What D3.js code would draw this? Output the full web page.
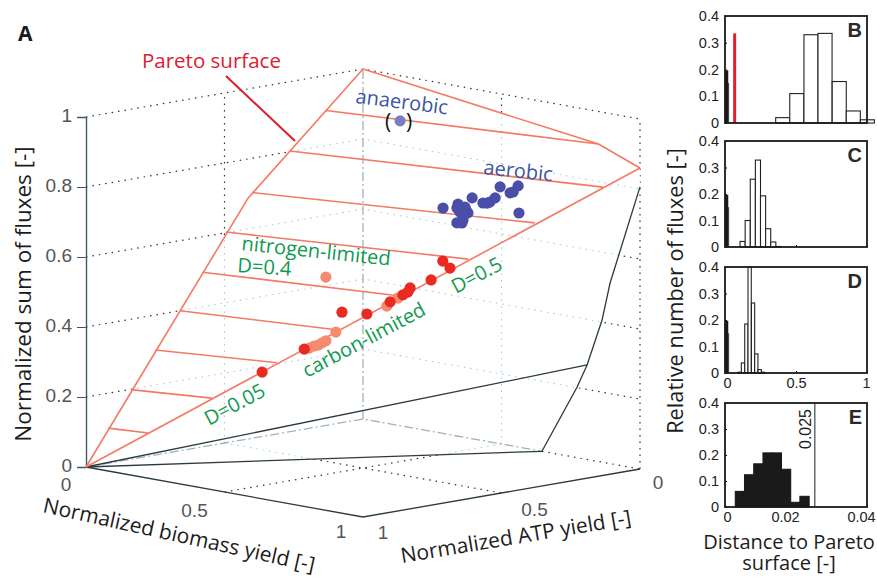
<!DOCTYPE html>
<html>
<head>
<meta charset="utf-8">
<script src="https://cdn.jsdelivr.net/npm/d3@7"></script>
<style>
html, body { margin: 0; padding: 0; background: #fff; }
svg { display: block; }
.label { font-family: "Open Sans", sans-serif; fill: #1c1c1c; }
.tick3d text, text.tick3d { font-family: "Liberation Sans", sans-serif; font-size: 19px; fill: #555; }
.hist text { font-family: "Liberation Sans", sans-serif; font-size: 14.5px; fill: #222; }
</style>
</head>
<body>
<svg id="chart" width="877" height="577"></svg>
<script>
// 3D panel: all points are [biomass, ATP, flux]
let zTicks = [0, 0.2, 0.4, 0.6, 0.8, 1]
let gridLevels = [0.2, 0.4, 0.6, 0.8, 1]

let leftEdge = [[0, 1, 0], [0, 0.415, 0.688], [0, 0, 1]]
let topEdge = [[0, 0, 1], [0.85, 0, 0.907], [1, 0, 0.86]]
let lowerEdge = [[0, 1, 0], [1, 0, 0.86]]

let rungStarts = [[0, 0.92, 0.10], [0, 0.83, 0.197], [0, 0.75, 0.30], [0, 0.66, 0.40], [0, 0.58, 0.499],
    [0, 0.495, 0.602], [0, 0.40, 0.702], [0, 0.264, 0.802], [0, 0.134, 0.90]]
let rungEnds = [[0.112, 0.888, 0.098], [0.227, 0.773, 0.198], [0.345, 0.655, 0.30], [0.455, 0.545, 0.394], [0.567, 0.433, 0.492],
    [0.69, 0.31, 0.598], [0.81, 0.19, 0.702], [0.933, 0.067, 0.805], [0.85, 0, 0.907]]

let backWall = [[1, 0, 0.86], [1, 0, 0.806], [0.892, 0, 0.516], [0.863, 0, 0.406], [0.809, 0, 0.27], [0.773, 0, 0.202], [0.646, 0, 0]]
let lowerRay = [[0, 1, 0], [0.809, 0, 0.27]]
let floorRay = [[0, 1, 0], [0.646, 0, 0]]

let aerobic = [[0.389, 0.1, 0.672], [0.443, 0.1, 0.691], [0.45, 0.1, 0.669], [0.468, 0.1, 0.686], [0.494, 0.1, 0.716],
    [0.479, 0.1, 0.671], [0.461, 0.1, 0.648], [0.439, 0.1, 0.637], [0.457, 0.1, 0.639], [0.533, 0.1, 0.707],
    [0.558, 0.1, 0.713], [0.577, 0.1, 0.728], [0.595, 0.1, 0.762], [0.631, 0.1, 0.75], [0.642, 0.1, 0.754],
    [0.66, 0.1, 0.774], [0.663, 0.1, 0.697], [0.472, 0.1, 0.678], [0.548, 0.1, 0.709], [0.439, 0.1, 0.679]]
let anaerobic = [[0.234, 0.1, 0.899]]

let carbonPale = [[0.403, 0.597, 0.342], [0.412, 0.588, 0.348], [0.419, 0.581, 0.351], [0.426, 0.574, 0.357],
    [0.433, 0.567, 0.363], [0.451, 0.549, 0.388], [0.543, 0.457, 0.463], [0.563, 0.437, 0.486], [0.433, 0.567, 0.545]]
let carbonRed = [[0.318, 0.682, 0.273], [0.394, 0.606, 0.339], [0.462, 0.538, 0.445], [0.507, 0.493, 0.44], [0.549, 0.451, 0.475],
    [0.572, 0.428, 0.495], [0.581, 0.419, 0.503], [0.585, 0.415, 0.515], [0.623, 0.377, 0.538], [0.657, 0.343, 0.572], [0.644, 0.356, 0.592]]

// histograms
let binsB = [0.357, 0.456, 0.556, 0.655, 0.755, 0.854, 0.953]
let valsB = [0.02, 0.11, 0.33, 0.335, 0.155, 0.045, 0.012]
let binsC = [0.106, 0.142, 0.178, 0.214, 0.25, 0.286, 0.322, 0.358]
let valsC = [0.021, 0.10, 0.256, 0.328, 0.193, 0.069, 0.019, 0.002]
let binsD = [0.092, 0.115, 0.139, 0.162, 0.186, 0.209, 0.233, 0.256]
let valsD = [0.003, 0.038, 0.185, 0.4, 0.264, 0.072, 0.013, 0.003]
let binsE = [0.0029, 0.0055, 0.0081, 0.0107, 0.0133, 0.0159, 0.0185, 0.0211]
let valsE = [0.06, 0.124, 0.166, 0.208, 0.208, 0.145, 0.018, 0.041]
let nearZero = [[0, 0.023, 0.197], [0.023, 0.029, 0.15]]

let histTicksY = [0, 0.1, 0.2, 0.3, 0.4]

let svg = d3.select('#chart')

let bx = d3.scaleLinear().domain([0, 1]).range([0, 277])
let ax = d3.scaleLinear().domain([1, 0]).range([86, 363])
let by = d3.scaleLinear().domain([0, 1]).range([0, 50])
let ay = d3.scaleLinear().domain([1, 0]).range([0, -48])
let fy = d3.scaleLinear().domain([0, 1]).range([467, 117])

function project(p) {
    return [ax(p[1]) + bx(p[0]), fy(p[2]) + by(p[0]) + ay(p[1])]
}

let line3d = d3.line().x((d) => project(d)[0]).y((d) => project(d)[1])

// silhouette of the solid, grid is pale behind it and black outside
let hull = leftEdge.concat(topEdge.slice(1), backWall.slice(1))
let defs = svg.append('defs')
defs.append('clipPath').attr('id', 'inHull').append('path').attr('d', line3d(hull) + 'Z')
let mask = defs.append('mask').attr('id', 'outHull')
    .attr('maskUnits', 'userSpaceOnUse').attr('x', 0).attr('y', 0).attr('width', 877).attr('height', 577)
mask.append('rect').attr('width', 877).attr('height', 577).attr('fill', '#fff')
mask.append('path').attr('d', line3d(hull) + 'Z').attr('fill', '#000')

let gridLines = []
for (let f of gridLevels) gridLines.push([[0, 1, f], [0, 0, f], [1, 0, f]])
gridLines.push([[0, 0.5, 0], [0, 0.5, 1]])
gridLines.push([[0.5, 0, 0], [0.5, 0, 1]])
gridLines.push([[1, 0, 0], [1, 0, 1]])
gridLines.push([[0.5, 1, 0], [0.5, 0, 0]])
gridLines.push([[0, 0.5, 0], [1, 0.5, 0]])
gridLines.push([[0.646, 0, 0], [1, 0, 0]])

let gridBehind = svg.append('g').attr('clip-path', 'url(#inHull)')
gridBehind.selectAll('path').data(gridLines).join('path')
    .attr('d', line3d).attr('fill', 'none').attr('stroke', '#a8ccd9')
    .attr('stroke-width', 1.1).attr('stroke-dasharray', '1.5 5')

let gridFront = svg.append('g').attr('mask', 'url(#outHull)')
gridFront.selectAll('path').data(gridLines).join('path')
    .attr('d', line3d).attr('fill', 'none').attr('stroke', '#333')
    .attr('stroke-width', 1.2).attr('stroke-dasharray', '1.5 5')

// back axes, grey dash-dot
let backAxes = [[[0, 1, 0], [0, 0, 0], [0.646, 0, 0]], [[0, 0, 0], [0, 0, 1]]]
svg.append('g').selectAll('path').data(backAxes).join('path')
    .attr('d', line3d).attr('fill', 'none').attr('stroke', '#9fb3bb')
    .attr('stroke-width', 1.3).attr('stroke-dasharray', '9 3 2 3')

// solid lines of the lower body
let solids = [backWall.slice(1), lowerRay, floorRay, [[0, 1, 0], [1, 1, 0], [1, 0, 0]]]
svg.append('g').selectAll('path').data(solids).join('path')
    .attr('d', line3d).attr('fill', 'none').attr('stroke', '#2b3a40').attr('stroke-width', 1.3)

// z axis
let zAxis = d3.axisLeft(fy).tickValues(zTicks).tickFormat(d3.format('~g')).tickSize(9).tickPadding(5)
let zg = svg.append('g').attr('class', 'tick3d').attr('transform', 'translate(86,0)').call(zAxis)
zg.attr('font-size', null).attr('font-family', null)
zg.select('.domain').attr('fill', 'none').style('fill', 'none').attr('stroke', '#3f5a66').attr('stroke-width', 1.4)
zg.selectAll('.tick line').attr('stroke', '#3f5a66')
zg.selectAll('text').attr('fill', null).attr('dy', '0.22em')

// floor ticks
let floorLabels = [
    { p: [0, 1, 0], t: '0', dx: -20, dy: 24 }, { p: [0.5, 1, 0], t: '0.5', dx: -30, dy: 25 }, { p: [1, 1, 0], t: '1', dx: -22, dy: 21 },
    { p: [1, 1, 0], t: '1', dx: 20, dy: 22 }, { p: [1, 0.5, 0], t: '0.5', dx: 33, dy: 23 }, { p: [1, 0, 0], t: '0', dx: 18, dy: 20 }
]
svg.append('g').selectAll('text').data(floorLabels).join('text')
    .attr('class', 'tick3d').attr('text-anchor', 'middle')
    .attr('x', (d) => project(d.p)[0] + d.dx).attr('y', (d) => project(d.p)[1] + d.dy)
    .text((d) => d.t)

// Pareto surface
let surface = [leftEdge, topEdge, lowerEdge].concat(rungStarts.map((d, i) => [d, rungEnds[i]]))
svg.append('g').selectAll('path').data(surface).join('path')
    .attr('d', line3d).attr('fill', 'none').attr('stroke', '#f47a63').attr('stroke-width', 1.6)

function dots(rows, color) {
    svg.append('g').selectAll('circle').data(rows).join('circle')
        .attr('cx', (d) => project(d)[0]).attr('cy', (d) => project(d)[1])
        .attr('r', 5.6).attr('fill', color)
}
dots(aerobic, '#4b4ea8')
dots(anaerobic, '#7c7cc0')
dots(carbonPale, '#f58a6c')
dots(carbonRed, '#e92a22')

// annotations
function label(txt, x, y, size, color, angle, opts) {
    let t = svg.append('text').attr('class', 'label')
        .attr('transform', `translate(${x},${y}) rotate(${angle || 0})`)
        .attr('font-size', size).style('fill', color).text(txt)
    if (opts && opts.anchor) t.attr('text-anchor', opts.anchor)
    if (opts && opts.weight) t.attr('font-weight', opts.weight)
    return t
}
let green = '#109a50', blue = '#3c55a5', red = '#dd2030'
label('Pareto surface', 142, 68, 20.5, red)
svg.append('line').attr('x1', 226).attr('y1', 76).attr('x2', 295).attr('y2', 141)
    .attr('stroke', '#d9202a').attr('stroke-width', 2)
label('nitrogen-limited', 241, 250, 20, green, 6)
label('D=0.4', 237, 272, 20, green, 4)
label('D=0.05', 209, 426, 20, green, -28)
label('carbon-limited', 307, 378, 20, green, -28)
label('D=0.5', 456, 294, 20, green, -28)
label('anaerobic', 355, 103, 20, blue, 7)
label('aerobic', 483, 174, 20, blue, 6)
label('(', 385, 129, 21, '#111')
label(')', 406, 129, 21, '#111')
label('Normalized sum of fluxes [-]', 31, 294, 22.5, '#1c1c1c', -90, { anchor: 'middle' })
label('Normalized biomass yield [-]', 42, 512, 21, '#1c1c1c', 12.5)
label('Normalized ATP yield [-]', 402, 563, 21, '#1c1c1c', -9.5)
label('Relative number of fluxes [-]', 683, 291, 21.8, '#1c1c1c', -90, { anchor: 'middle' })
label('Distance to Pareto', 789, 549, 20, '#1c1c1c', 0, { anchor: 'middle' })
label('surface [-]', 789, 570, 20, '#1c1c1c', 0, { anchor: 'middle' })
label('A', 18, 41, 21, '#1a1a1a', 0, { weight: 700 })

// histogram panels
function histPanel(cfg) {
    let x = d3.scaleLinear().domain([0, cfg.xMax]).range([725, 867])
    let y = d3.scaleLinear().domain([0, 0.4]).range([cfg.bottom, cfg.top])
    let g = svg.append('g').attr('class', 'hist')
    let yAxis = d3.axisLeft(y).tickValues(histTicksY).tickFormat(d3.format('~g')).tickSize(-2).tickPadding(5)
    let yg = g.append('g').attr('transform', 'translate(725,0)').call(yAxis)
    yg.select('.domain').remove()
    yg.selectAll('text').attr('x', -6)
    let xg = g.append('g').attr('transform', `translate(0,${cfg.bottom})`)
    let xAxis = d3.axisBottom(x).tickValues(cfg.xTicks).tickSize(-2).tickPadding(5)
    if (cfg.xFormat) xAxis.tickFormat(cfg.xFormat)
    else xAxis.tickFormat('')
    xg.call(xAxis)
    xg.select('.domain').remove()
    if (cfg.labelShift) xg.selectAll('text').attr('dx', (d) => cfg.labelShift(d))

    let binWidth = cfg.bins[1] - cfg.bins[0]
    g.append('g').selectAll('rect').data(cfg.bins).join('rect')
        .attr('x', (d) => x(d)).attr('width', (d) => x(d + binWidth) - x(d))
        .attr('y', (d, i) => y(cfg.vals[i])).attr('height', (d, i) => y(0) - y(cfg.vals[i]))
        .attr('fill', cfg.barFill).attr('stroke', cfg.barStroke).attr('stroke-width', 1.1)
    if (cfg.nearZero) {
        let xz = d3.scaleLinear().domain([0, 1]).range([725, 867])
        g.append('g').selectAll('rect').data(cfg.nearZero).join('rect')
            .attr('x', (d) => xz(d[0])).attr('width', (d) => xz(d[1]) - xz(d[0]))
            .attr('y', (d) => y(d[2])).attr('height', (d) => y(0) - y(d[2]))
            .attr('fill', '#1a1a1a')
    }
    if (cfg.after) cfg.after(g, x, y)
    g.append('rect').attr('x', 725).attr('y', cfg.top).attr('width', 142).attr('height', cfg.bottom - cfg.top)
        .attr('fill', 'none').attr('stroke', '#1a1a1a').attr('stroke-width', 1.8)
    g.append('text').attr('x', 862).attr('y', cfg.top + 21).attr('text-anchor', 'end')
        .style('font-size', '20px').style('font-weight', 700).style('fill', '#2a2a2a').text(cfg.name)
}

let redLineX = 0.068, redLineTop = 0.335, cutoff = 0.0253

histPanel({ name: 'B', top: 16, bottom: 123, xMax: 1, xTicks: [0, 0.5, 1], bins: binsB, vals: valsB, barFill: '#fff', barStroke: '#222', nearZero: nearZero,
    after: (g, x, y) => {
        g.append('line').attr('x1', x(redLineX)).attr('x2', x(redLineX)).attr('y1', y(0)).attr('y2', y(redLineTop))
            .attr('stroke', '#e0202c').attr('stroke-width', 3)
    } })
histPanel({ name: 'C', top: 141, bottom: 247, xMax: 1, xTicks: [0, 0.5, 1], bins: binsC, vals: valsC, barFill: '#fff', barStroke: '#222', nearZero: nearZero })
histPanel({ name: 'D', top: 267, bottom: 373, xMax: 1, xTicks: [0, 0.5, 1], xFormat: d3.format('~g'), bins: binsD, vals: valsD, barFill: '#fff', barStroke: '#222', nearZero: nearZero,
    labelShift: (d) => d == 1 ? -1 : d == 0 ? 2 : 0 })
histPanel({ name: 'E', top: 403, bottom: 507, xMax: 0.04, xTicks: [0, 0.02, 0.04], xFormat: d3.format('~g'), bins: binsE, vals: valsE, barFill: '#1a1a1a', barStroke: '#1a1a1a',
    labelShift: (d) => d == 0.02 ? -11 : d == 0 ? 2 : -6,
    after: (g, x, y) => {
        g.append('line').attr('x1', x(cutoff)).attr('x2', x(cutoff)).attr('y1', y(0)).attr('y2', y(0.4))
            .attr('stroke', '#444').attr('stroke-width', 1.2)
        g.append('text').attr('transform', `translate(${x(cutoff) - 4},${y(0.3)}) rotate(-90)`)
            .attr('text-anchor', 'middle').style('font-size', '16px').text('0.025')
    } })
</script>
</body>
</html>
